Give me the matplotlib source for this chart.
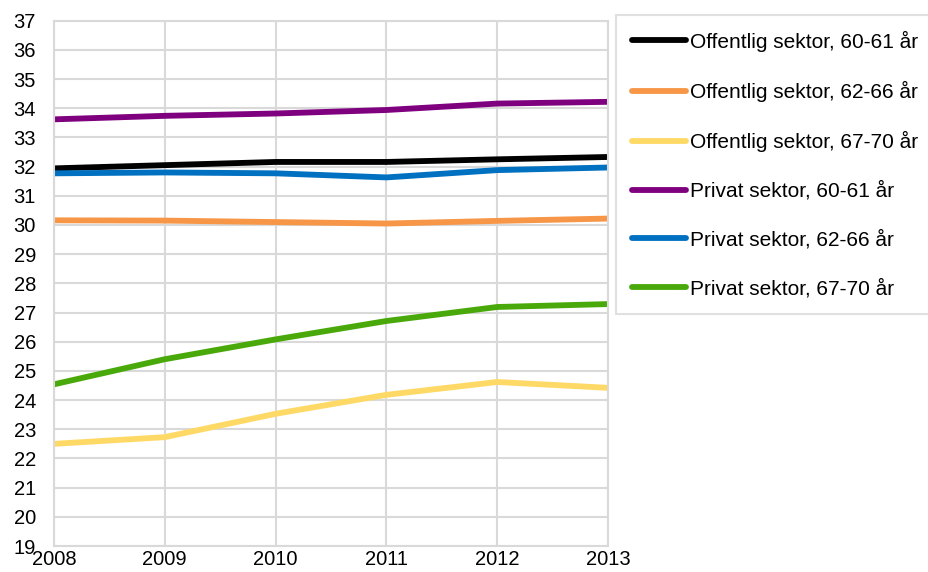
import matplotlib
matplotlib.use("Agg")
import matplotlib.pyplot as plt

plt.rcParams['font.family'] = ['Liberation Sans', 'DejaVu Sans']

years = [2008, 2009, 2010, 2011, 2012, 2013]

off_60_61 = [31.94, 32.05, 32.16, 32.16, 32.25, 32.33]
off_62_66 = [30.16, 30.15, 30.10, 30.05, 30.14, 30.22]
off_67_70 = [22.50, 22.73, 23.53, 24.18, 24.62, 24.42]
priv_60_61 = [33.62, 33.74, 33.82, 33.94, 34.16, 34.22]
priv_62_66 = [31.77, 31.80, 31.77, 31.63, 31.88, 31.97]
priv_67_70 = [24.54, 25.40, 26.08, 26.71, 27.19, 27.29]

labels = ["Offentlig sektor, 60-61 år", "Offentlig sektor, 62-66 år",
          "Offentlig sektor, 67-70 år", "Privat sektor, 60-61 år",
          "Privat sektor, 62-66 år", "Privat sektor, 67-70 år"]
series = [off_60_61, off_62_66, off_67_70, priv_60_61, priv_62_66, priv_67_70]
colors = ["#000000", "#f79646", "#ffd966", "#7f007f", "#0070c0", "#4aa90a"]

W, H = 929, 572
fig = plt.figure(figsize=(W / 100, H / 100), dpi=100)
ax = fig.add_axes([54 / W, 1 - 546 / H, (608 - 54) / W, (546 - 20.7) / H])

for vals, lab, c in zip(series, labels, colors):
    ax.plot(years, vals, color=c, lw=4.2, label=lab, solid_capstyle='round')

ax.set_xlim(2008, 2013)
ax.set_ylim(19, 37)
ax.set_yticks(range(19, 38))
ax.set_xticks(years)
ax.grid(True, color="#d9d9d9", lw=1.5)
ax.set_axisbelow(True)
for s in ax.spines.values():
    s.set_color("#d9d9d9")
    s.set_linewidth(1.5)
ax.tick_params(length=0, labelsize=14.5, colors="#000000")
ax.tick_params(axis='y', pad=13)
ax.tick_params(axis='x', pad=3)

leg = fig.legend(loc='upper left', bbox_to_anchor=(616 / W, 1 - 15 / H),
                 fontsize=15, frameon=True, fancybox=False,
                 handlelength=2.6, handletextpad=0.2, labelspacing=1.4,
                 borderpad=0.75, borderaxespad=0)
leg.get_frame().set_edgecolor("#d9d9d9")
leg.get_frame().set_linewidth(1.5)

fig.savefig("out.png", dpi=100)
